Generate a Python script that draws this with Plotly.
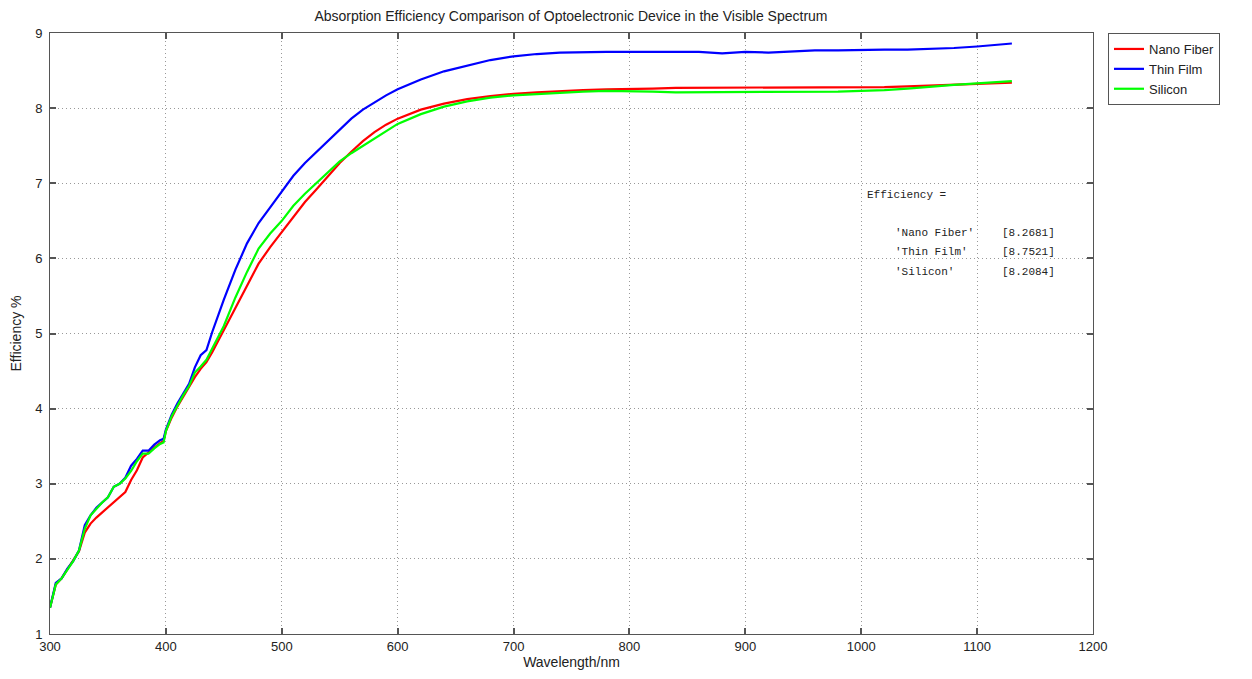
import plotly.graph_objects as go

wavelength = [300, 305, 310, 315, 320, 325, 330, 335, 340, 345, 350, 355, 360, 365, 370, 375,
              380, 385, 390, 395, 398, 400, 405, 410, 415, 420, 425, 430, 435, 440, 450, 460,
              470, 480, 490, 500, 510, 520, 530, 540, 550, 560, 570, 580, 590, 600, 620, 640,
              660, 680, 700, 720, 740, 760, 780, 800, 820, 840, 860, 880, 900, 920, 940, 960,
              980, 1000, 1020, 1040, 1060, 1080, 1100, 1115, 1130]

nano_fiber = [1.35, 1.66, 1.74, 1.86, 1.97, 2.10, 2.35, 2.47, 2.55, 2.62, 2.69, 2.76, 2.83, 2.89,
              3.05, 3.18, 3.35, 3.42, 3.48, 3.54, 3.57, 3.70, 3.88, 4.03, 4.16, 4.28, 4.42, 4.53,
              4.62, 4.75, 5.05, 5.35, 5.65, 5.93, 6.15, 6.35, 6.55, 6.75, 6.92, 7.10, 7.27, 7.42,
              7.56, 7.68, 7.78, 7.86, 7.98, 8.06, 8.12, 8.16, 8.19, 8.21, 8.23, 8.24, 8.25, 8.26,
              8.26, 8.27, 8.27, 8.28, 8.28, 8.28, 8.28, 8.27, 8.27, 8.27, 8.28, 8.29, 8.30, 8.31,
              8.32, 8.33, 8.34]

thin_film = [1.35, 1.68, 1.74, 1.87, 1.97, 2.11, 2.45, 2.58, 2.68, 2.75, 2.82, 2.96, 3.00, 3.08,
             3.24, 3.33, 3.44, 3.44, 3.52, 3.58, 3.60, 3.72, 3.92, 4.07, 4.20, 4.33, 4.55, 4.71,
             4.78, 5.02, 5.45, 5.85, 6.20, 6.47, 6.68, 6.89, 7.10, 7.27, 7.42, 7.57, 7.72, 7.86,
             7.98, 8.08, 8.17, 8.25, 8.38, 8.49, 8.57, 8.64, 8.69, 8.72, 8.74, 8.75, 8.75, 8.75,
             8.75, 8.75, 8.75, 8.73, 8.75, 8.74, 8.76, 8.77, 8.77, 8.78, 8.78, 8.78, 8.79, 8.80,
             8.82, 8.84, 8.86]

silicon = [1.35, 1.66, 1.74, 1.86, 1.97, 2.11, 2.40, 2.58, 2.67, 2.75, 2.82, 2.96, 3.00, 3.07,
           3.17, 3.30, 3.40, 3.40, 3.47, 3.53, 3.55, 3.70, 3.90, 4.05, 4.18, 4.30, 4.48, 4.56,
           4.65, 4.80, 5.10, 5.48, 5.82, 6.13, 6.33, 6.50, 6.70, 6.86, 7.00, 7.15, 7.29, 7.40,
           7.50, 7.60, 7.70, 7.79, 7.92, 8.02, 8.09, 8.14, 8.17, 8.19, 8.21, 8.22, 8.23, 8.23,
           8.22, 8.21, 8.21, 8.21, 8.21, 8.21, 8.22, 8.22, 8.22, 8.23, 8.24, 8.26, 8.29, 8.31,
           8.33, 8.35, 8.36]

series_names = ["Nano Fiber", "Thin Film", "Silicon"]
series_values = [nano_fiber, thin_film, silicon]
series_colors = ["#ff0000", "#0000ff", "#00ff00"]
mean_labels = ["[8.2681]", "[8.7521]", "[8.2084]"]

x_ticks = [300, 400, 500, 600, 700, 800, 900, 1000, 1100, 1200]
y_ticks = [1, 2, 3, 4, 5, 6, 7, 8, 9]

# page body has an 8px margin; compensate so the plot area lands at (50..1093, 33..634)
W, H = 1244, 671
ML, MR, MT, MB = 42, 159, 25, 45

fig = go.Figure()
for name, vals, col in zip(series_names, series_values, series_colors):
    fig.add_trace(go.Scatter(x=wavelength, y=vals, mode="lines", name=name,
                             line=dict(color=col, width=2.2)))

axis_common = dict(
    showline=True, linecolor="#555555", linewidth=1, mirror="ticks",
    ticks="inside", ticklen=6, tickcolor="#555555", tickwidth=1.5,
    showgrid=True, gridcolor="#999999", griddash="1px,3px", gridwidth=1,
    zeroline=False, tickfont=dict(size=13, color="#222222"),
    automargin=False,
)

fig.update_xaxes(range=[300, 1200], tickvals=x_ticks,
                 title=dict(text="Wavelength/nm", font=dict(size=14, color="#222222"), standoff=2),
                 **axis_common)
fig.update_yaxes(range=[1, 9], tickvals=y_ticks, ticklabelstandoff=4,
                 title=dict(text="Efficiency %", font=dict(size=14, color="#222222"), standoff=16),
                 **axis_common)

mono = dict(family="Liberation Mono", size=11, color="#222222")
annos = []
annos.append(dict(x=(865 - 50) / 1043, y=(634 - 195) / 601, xref="paper", yref="paper",
                  text="Efficiency =", showarrow=False, xanchor="left", yanchor="middle",
                  font=mono))
label_rows = [233, 252, 272]
for nm, lab, py in zip(series_names, mean_labels, label_rows):
    annos.append(dict(x=(893 - 50) / 1043, y=(634 - py) / 601, xref="paper", yref="paper",
                      text="'" + nm + "'", showarrow=False, xanchor="left", yanchor="middle",
                      font=mono))
    annos.append(dict(x=(1000 - 50) / 1043, y=(634 - py) / 601, xref="paper", yref="paper",
                      text=lab, showarrow=False, xanchor="left", yanchor="middle",
                      font=mono))

fig.update_layout(
    width=W, height=H,
    margin=dict(l=ML, r=MR, t=MT, b=MB, autoexpand=False),
    paper_bgcolor="white", plot_bgcolor="white",
    font=dict(family="Liberation Sans, Arial, sans-serif", size=12, color="#222222"),
    title=dict(text="Absorption Efficiency Comparison of Optoelectronic Device in the Visible Spectrum",
               x=(571 - 8) / W, xanchor="center", y=1 - (16 - 8) / H, yanchor="middle",
               font=dict(size=14, color="#222222"), automargin=False),
    legend=dict(x=(1108 - 50) / 1043, y=1.0, xanchor="left", yanchor="top",
                bordercolor="#555555", borderwidth=1, bgcolor="white",
                font=dict(size=13, color="#222222"), tracegroupgap=0),
    annotations=annos,
    showlegend=True,
)

fig.write_html("out.html")
